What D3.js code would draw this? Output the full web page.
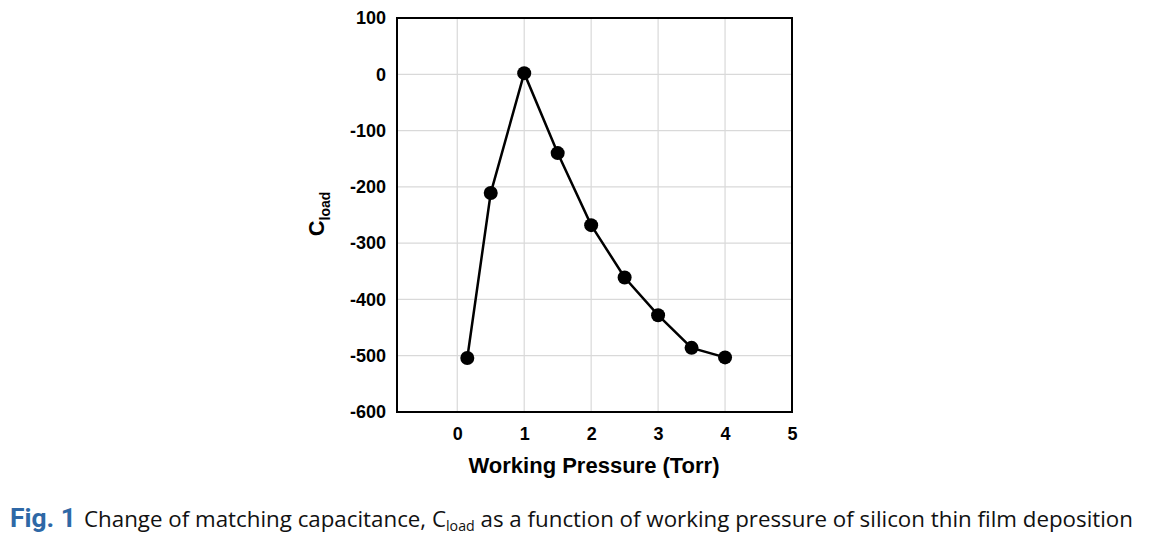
<!DOCTYPE html>
<html><head><meta charset="utf-8">
<script src="https://cdn.jsdelivr.net/npm/d3@7"></script>
<style>body{margin:0;background:#fff}</style>
</head><body>
<svg id="c" width="1150" height="536"></svg>
<script>
const pressure = [0.15, 0.5, 1, 1.5, 2, 2.5, 3, 3.5, 4];
const cload = [-504, -211, 2, -140, -268, -361, -428, -486, -503];
const xTicks = [0, 1, 2, 3, 4, 5];
const yTicks = [100, 0, -100, -200, -300, -400, -500, -600];

const svg = d3.select("#c");
const L = 397, R = 792, T = 18, B = 412;
const x = d3.scaleLinear().domain([-0.9, 5]).range([L, R]);
const y = d3.scaleLinear().domain([-600, 100]).range([B, T]);
const FONT = "Liberation Sans, Arial, sans-serif";

// gridlines
svg.append("g").selectAll("line").data(xTicks.slice(0, -1)).join("line")
  .attr("x1", d => x(d)).attr("x2", d => x(d)).attr("y1", T).attr("y2", B)
  .attr("stroke", "#d9d9d9").attr("stroke-width", 1.2);
svg.append("g").selectAll("line").data(yTicks.slice(1, -1)).join("line")
  .attr("x1", L).attr("x2", R).attr("y1", d => y(d)).attr("y2", d => y(d))
  .attr("stroke", "#d9d9d9").attr("stroke-width", 1.2);

// axes
const yAxis = d3.axisLeft(y).tickValues(yTicks).tickSize(0).tickPadding(11).tickFormat(d => String(d));
const gy = svg.append("g").attr("transform", `translate(${L},0)`).call(yAxis);
gy.select(".domain").remove();
gy.selectAll("text").attr("font-family", FONT).attr("font-weight", "bold").attr("font-size", 18).attr("fill", "#000");
const xAxis = d3.axisBottom(x).tickValues(xTicks).tickSize(0).tickPadding(15).tickFormat(d => String(d));
const gx = svg.append("g").attr("transform", `translate(0,${B})`).call(xAxis);
gx.select(".domain").remove();
gx.selectAll("text").attr("font-family", FONT).attr("font-weight", "bold").attr("font-size", 18).attr("fill", "#000");

// frame
svg.append("rect").attr("x", L).attr("y", T).attr("width", R - L).attr("height", B - T)
  .attr("fill", "none").attr("stroke", "#000").attr("stroke-width", 2);

// line & points
const data = pressure.map((p, i) => ({p, c: cload[i]}));
svg.append("path").datum(data)
  .attr("d", d3.line().x(d => x(d.p)).y(d => y(d.c)))
  .attr("fill", "none").attr("stroke", "#000").attr("stroke-width", 2.5);
svg.append("g").selectAll("circle").data(data).join("circle")
  .attr("cx", d => x(d.p)).attr("cy", d => y(d.c)).attr("r", 7).attr("fill", "#000");

// axis titles
svg.append("text").attr("x", 594).attr("y", 473).attr("text-anchor", "middle")
  .attr("font-family", FONT).attr("font-weight", "bold").attr("font-size", 22)
  .text("Working Pressure (Torr)");
const yt = svg.append("text").attr("transform", "translate(324,214) rotate(-90)").attr("text-anchor", "middle")
  .attr("font-family", FONT).attr("font-weight", "bold").attr("font-size", 22);
yt.append("tspan").text("C");
yt.append("tspan").attr("font-size", 14).attr("dy", 6).text("load");

// caption
const cap = svg.append("text").attr("x", 10).attr("y", 527)
  .attr("font-family", "Open Sans, Noto Sans, sans-serif").attr("font-size", 22).attr("fill", "#111");
cap.append("tspan").attr("fill", "#2e68a6").attr("font-weight", "bold").attr("font-family", "Liberation Sans Narrow, Roboto, sans-serif").attr("font-size", 26).text("Fig. 1");
cap.append("tspan").attr("dx", 8).text("Change of matching capacitance, C");
cap.append("tspan").attr("font-size", 14).attr("dy", 4).text("load");
cap.append("tspan").attr("dy", -4).text(" as a function of working pressure of silicon thin film deposition");
cap.attr("textLength", 1133 - 10).attr("lengthAdjust", "spacingAndGlyphs");
</script>
</body></html>
